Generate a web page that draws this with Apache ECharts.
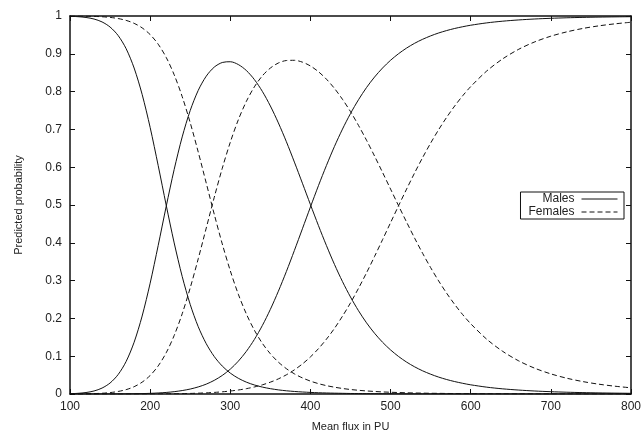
<!DOCTYPE html>
<html>
<head>
<meta charset="utf-8">
<script src="https://cdn.jsdelivr.net/npm/echarts@6/dist/echarts.min.js"></script>
<style>
  html, body { margin: 0; padding: 0; background: #fff; }
  #chart { width: 643px; height: 433px; }
</style>
</head>
<body>
<div id="chart"></div>
<script>
var flux = [100, 110, 120, 130, 140, 150, 160, 170, 180, 190,
            200, 210, 220, 230, 240, 250, 260, 270, 280, 290,
            300, 310, 320, 330, 340, 350, 360, 370, 380, 390,
            400, 410, 420, 430, 440, 450, 460, 470, 480, 490,
            500, 510, 520, 530, 540, 550, 560, 570, 580, 590,
            600, 620, 640, 660, 680, 700, 720, 740, 760, 780, 800];

// males
var maleLow = [0.9993, 0.9982, 0.9961, 0.992, 0.9843, 0.9708, 0.9485, 0.9137, 0.8624, 0.7927,
               0.7052, 0.6047, 0.5, 0.3997, 0.3109, 0.2369, 0.1781, 0.1331, 0.0991, 0.0739,
               0.0553, 0.0416, 0.0314, 0.0239, 0.0183, 0.0141, 0.0109, 0.0085, 0.0067, 0.0053,
               0.0042, 0.0033, 0.0027, 0.0022, 0.0018, 0.0014, 0.0012, 0.001, 0.0008, 0.0007,
               0.0006, 0.0005, 0.0004, 0.0003, 0.0003, 0.0002, 0.0002, 0.0002, 0.0001, 0.0001,
               0.0001, 0.0001, 0.0001, 0, 0, 0, 0, 0, 0, 0, 0];
var maleMid = [0.0007, 0.0018, 0.0039, 0.008, 0.0157, 0.0291, 0.0513, 0.0859, 0.1369, 0.2062,
               0.2931, 0.3926, 0.4959, 0.5941, 0.6801, 0.75, 0.8032, 0.8408, 0.8648, 0.877,
               0.879, 0.8716, 0.8559, 0.832, 0.8006, 0.762, 0.7172, 0.6674, 0.6135, 0.5576,
               0.5011, 0.4456, 0.3926, 0.3428, 0.2974, 0.2566, 0.2203, 0.1883, 0.1607, 0.1369,
               0.1166, 0.0992, 0.0844, 0.0719, 0.0613, 0.0524, 0.0447, 0.0383, 0.0329, 0.0283,
               0.0243, 0.0181, 0.0136, 0.0104, 0.0079, 0.0061, 0.0047, 0.0037, 0.0029, 0.0023, 0.0018];
var maleHigh = [0, 0, 0, 0, 0.0001, 0.0001, 0.0002, 0.0004, 0.0007, 0.0011,
                0.0017, 0.0027, 0.0041, 0.0062, 0.0091, 0.0131, 0.0187, 0.0261, 0.0361, 0.0491,
                0.0657, 0.0868, 0.1127, 0.1441, 0.1811, 0.2239, 0.2719, 0.3241, 0.3798, 0.4371,
                0.4947, 0.5511, 0.6047, 0.655, 0.7008, 0.742, 0.7785, 0.8107, 0.8385, 0.8624,
                0.8829, 0.9003, 0.9152, 0.9278, 0.9384, 0.9474, 0.9551, 0.9615, 0.967, 0.9716,
                0.9756, 0.9818, 0.9863, 0.9896, 0.9921, 0.9939, 0.9953, 0.9963, 0.9971, 0.9977, 0.9982];

// females
var femaleLow = [0.9999, 0.9998, 0.9995, 0.999, 0.998, 0.9963, 0.9933, 0.9884, 0.9806, 0.9686,
                 0.9509, 0.9255, 0.8906, 0.8445, 0.7867, 0.7177, 0.6402, 0.558, 0.4755, 0.397,
                 0.3261, 0.2641, 0.212, 0.169, 0.1341, 0.1064, 0.0843, 0.067, 0.0533, 0.0426,
                 0.0341, 0.0274, 0.0221, 0.018, 0.0146, 0.0119, 0.0098, 0.0081, 0.0067, 0.0055,
                 0.0046, 0.0039, 0.0032, 0.0027, 0.0023, 0.0019, 0.0017, 0.0014, 0.0012, 0.001,
                 0.0009, 0.0007, 0.0005, 0.0004, 0.0003, 0.0002, 0.0002, 0.0001, 0.0001, 0.0001, 0.0001];
var femaleMid = [0.0001, 0.0002, 0.0005, 0.001, 0.002, 0.0037, 0.0067, 0.0115, 0.0193, 0.0313,
                 0.0489, 0.0742, 0.1089, 0.1548, 0.2123, 0.2808, 0.3576, 0.439, 0.5203, 0.5972,
                 0.666, 0.7253, 0.7739, 0.8124, 0.8417, 0.8623, 0.8757, 0.8822, 0.8828, 0.8779,
                 0.8678, 0.8527, 0.8328, 0.8084, 0.7795, 0.7471, 0.7105, 0.6713, 0.6295, 0.5862,
                 0.5421, 0.4979, 0.4547, 0.4124, 0.3722, 0.3343, 0.2991, 0.2666, 0.2369, 0.21,
                 0.1859, 0.1449, 0.1127, 0.0875, 0.0681, 0.0532, 0.0417, 0.0328, 0.0259, 0.0206, 0.0164];
var femaleHigh = [0, 0, 0, 0, 0, 0, 0, 0.0001, 0.0001, 0.0001,
                  0.0002, 0.0003, 0.0005, 0.0007, 0.001, 0.0015, 0.0022, 0.003, 0.0042, 0.0058,
                  0.0079, 0.0106, 0.0141, 0.0186, 0.0242, 0.0313, 0.04, 0.0508, 0.0639, 0.0795,
                  0.0981, 0.1199, 0.1451, 0.1736, 0.2059, 0.241, 0.2797, 0.3206, 0.3638, 0.4083,
                  0.4533, 0.4982, 0.5421, 0.5849, 0.6255, 0.6638, 0.6993, 0.732, 0.7619, 0.789,
                  0.8132, 0.8545, 0.8868, 0.9121, 0.9316, 0.9466, 0.9581, 0.9671, 0.974, 0.9793, 0.9835];

var xTicks = [100, 200, 300, 400, 500, 600, 700, 800];
var yTicks = [0, 0.1, 0.2, 0.3, 0.4, 0.5, 0.6, 0.7, 0.8, 0.9, 1];

function pairs(vals) {
  return flux.map(function (f, i) { return [f, vals[i]]; });
}

function curve(name, vals, dashed) {
  return {
    name: name,
    type: 'line',
    data: pairs(vals),
    showSymbol: false,
    symbol: 'none',
    smooth: 0.3,
    silent: true,
    lineStyle: { color: '#111', width: 1, type: dashed ? [5, 3] : 'solid' },
    itemStyle: { color: '#111' }
  };
}

var font = 'Liberation Sans, Arial, Helvetica, sans-serif';

function frameAxis(pos, isX) {
  var a = {
    type: 'value',
    position: pos,
    min: isX ? xTicks[0] : yTicks[0],
    max: isX ? xTicks[xTicks.length - 1] : yTicks[yTicks.length - 1],
    interval: isX ? 100 : 0.1,
    axisLine: { show: true, onZero: false, lineStyle: { color: '#111', width: 1.5 } },
    axisTick: { show: true, inside: true, length: 5, lineStyle: { color: '#111', width: 1 } },
    axisLabel: { show: false },
    splitLine: { show: false }
  };
  return a;
}

var xMain = frameAxis('bottom', true);
xMain.axisLabel = { show: true, color: '#222', fontSize: 12, fontFamily: font, margin: 7 };
xMain.name = 'Mean flux in PU';
xMain.nameLocation = 'middle';
xMain.nameGap = 27;
xMain.nameTextStyle = { color: '#222', fontSize: 11, fontFamily: font };

var yMain = frameAxis('left', false);
yMain.axisLabel = {
  show: true, color: '#222', fontSize: 12, fontFamily: font, margin: 8,
  formatter: function (v) { return String(Math.round(v * 10) / 10); }
};
yMain.name = 'Predicted probability';
yMain.nameLocation = 'middle';
yMain.nameGap = 46;
yMain.nameTextStyle = { color: '#222', fontSize: 11, fontFamily: font };

var chart = echarts.init(document.getElementById('chart'), null, { renderer: 'canvas' });
chart.setOption({
  animation: false,
  backgroundColor: '#fff',
  grid: { left: 70, right: 12, top: 16, bottom: 39, containLabel: false, outerBoundsMode: 'none' },
  xAxis: [xMain, frameAxis('top', true)],
  yAxis: [yMain, frameAxis('right', false)],
  legend: {
    data: ['Males', 'Females'],
    orient: 'vertical',
    align: 'right',
    right: 19,
    top: 192,
    itemWidth: 36,
    itemHeight: 8,
    itemGap: 1,
    padding: [1, 6, 1, 8],
    borderColor: '#111',
    borderWidth: 1,
    borderRadius: 0,
    selectedMode: false,
    itemStyle: { opacity: 0 },
    lineStyle: { width: 1 },
    textStyle: { color: '#222', fontSize: 12, fontFamily: font, padding: [0, 2, 0, 0] }
  },
  series: [
    curve('Males', maleLow, false),
    curve('Males', maleMid, false),
    curve('Males', maleHigh, false),
    curve('Females', femaleLow, true),
    curve('Females', femaleMid, true),
    curve('Females', femaleHigh, true)
  ]
});
</script>
</body>
</html>
